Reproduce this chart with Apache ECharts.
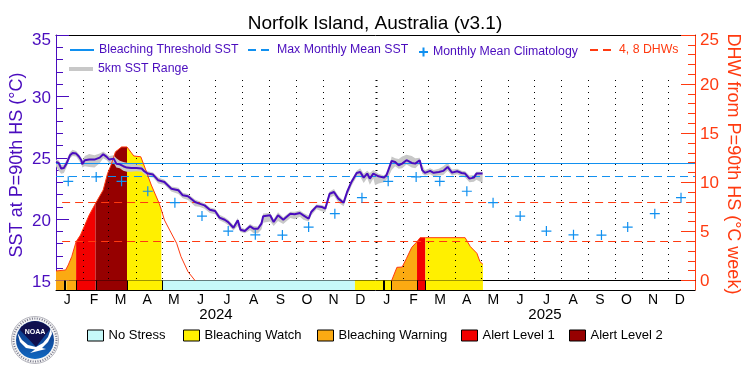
<!DOCTYPE html>
<html>
<head>
  <meta charset="utf-8">
</head>
<body style="margin:0;background:#fff">
  <div id="container" style="width:750px;height:375px"></div>
  <script src="https://cdn.jsdelivr.net/npm/echarts@6/dist/echarts.min.js"></script>
  <script>
    // all day arrays count days from 2024-01-01
    var sstDays = [0,3,6,9,12,16,19,23,26,29,
      30,33,38,44,50,54,58,61,66,69,
      73,77,81,86,92,98,101,105,111,117,
      124,132,140,145,151,159,164,170,176,182,
      187,193,197,203,208,211,216,222,226,231,
      235,237,245,249,254,260,268,273,279,283,
      289,292,298,304,308,313,318,323,329,333,
      338,344,348,352,356,359,363,365,369,375,
      378,380,384,388,392,396,401,407,411,416,
      419,422,428,432,438,443,448,453,459,464,
      468,473,478,481,488];
    var sstValues = [24.66,24.58,24.12,24.17,24.52,25.2,25.39,25.34,25.12,24.8,
      24.47,24.8,24.85,24.85,25.01,25.29,25.07,24.85,24.93,24.52,
      24.47,24.31,24.2,24.17,24.17,24.12,23.9,23.71,23.63,23.16,
      23.03,22.48,22.35,21.94,21.86,21.39,21.26,21.12,20.77,20.66,
      20.12,19.95,19.76,19.3,19.9,19.14,19.03,19.41,19.22,19.22,
      19.63,20.23,20.31,19.76,20.31,19.95,20.44,20.39,20.5,20.31,
      20.03,20.58,21.04,20.99,20.85,22.07,22.21,21.67,21.34,22.21,
      23.03,23.76,23.84,23.38,23.71,23.3,23.71,23.71,23.49,23.38,
      23.57,23.71,24.74,24.66,24.39,24.52,24.8,24.58,24.52,24.8,
      23.99,23.77,23.93,23.77,23.84,23.93,24.25,23.79,23.9,23.76,
      23.71,23.3,23.38,23.71,23.71];
    var sstLow = [24.3,23.95,23.7,23.75,24.2,24.95,25.15,25.1,24.8,24.5,
      24.2,24.3,24.25,24.2,24.55,24.95,24.8,24.55,24.6,24.2,
      24.15,23.95,23.85,23.85,23.9,23.85,23.65,23.45,23.4,22.9,
      22.8,22.25,22.05,21.7,21.55,21.05,21.0,20.85,20.5,20.4,
      19.9,19.7,19.5,19.1,19.45,18.95,18.85,19.1,18.85,18.85,
      19.15,19.7,19.8,19.45,19.85,19.6,20.1,20.0,20.2,19.95,
      19.8,20.3,20.8,20.65,20.55,21.75,21.9,21.35,21.05,21.85,
      22.7,23.45,23.45,22.95,23.35,22.8,23.3,22.75,22.9,23.0,
      23.2,23.4,24.0,24.3,24.1,24.15,24.45,24.2,24.15,24.5,
      23.7,23.55,23.65,23.5,23.55,23.6,23.95,23.55,23.65,23.5,
      23.4,23.0,23.05,23.2,22.95];
    var sstHigh = [24.85,24.8,24.4,24.45,24.8,25.45,25.65,25.55,25.3,25.0,
      24.75,25.15,25.3,25.2,25.35,25.5,25.3,25.15,25.2,24.95,
      24.75,24.65,24.6,24.5,24.45,24.35,24.1,23.9,23.8,23.4,
      23.2,22.65,22.55,22.15,22.05,21.6,21.45,21.3,20.95,20.85,
      20.35,20.15,19.95,19.5,20.1,19.35,19.2,19.6,19.45,19.4,
      19.85,20.45,20.5,20.0,20.55,20.15,20.6,20.6,20.7,20.5,
      20.3,20.75,21.2,21.15,21.05,22.25,22.45,21.9,21.5,22.4,
      23.2,23.95,24.15,23.7,23.95,23.75,24.0,23.9,23.7,23.55,
      23.75,23.95,25.1,24.95,24.9,25.1,25.25,25.15,24.95,25.0,
      24.4,24.0,24.15,24.0,24.1,24.3,24.6,24.05,24.1,23.95,
      23.9,23.55,23.6,23.85,23.85];

    var dhwDays = [0,11,14,18,23,28,38,45.3,54,59,63,68,75,81.2,89,97,101,109,118,120.5,124,130,138,143,151,159,
      170,
      384,390,396,401,407,413,416.5,422.6,468,474,481.5,485,488.4];
    var dhwValues = [0.97,1.07,1.58,2.43,3.95,4.63,6.67,7.86,9.22,10.9,11.76,13.1,13.6,13.6,12.68,12.6,11.66,9.72,7.86,7.2,6.16,5.14,3.79,2.43,0.9,0,
      null,
      0,1.34,1.37,2.26,3.38,3.95,4.36,4.36,4.36,3.45,2.77,1.92,1.65];

    var climDays = [14,46,75,105,136,167,197,228,259,289,319,350,
      380,412,439,470,500,531,561,592,624,654,685,715];
    var climValues = [23.08,23.44,23.08,22.27,21.34,20.25,19.03,18.72,18.7,19.35,20.44,21.75,
      23.08,23.44,23.08,22.27,21.34,20.25,19.03,18.72,18.7,19.35,20.44,21.75];

    var bleachingThreshold = 24.53;
    var maxMonthlyMean = 23.47;
    var dhwLevels = [3.97, 7.94];

    var monthRuleDays = [31,60,91,121,152,182,213,244,274,305,335,366,397,425,456,486,517,547,578,609,639,670,700];
    var monthLabels = ['J','F','M','A','M','J','J','A','S','O','N','D','J','F','M','A','M','J','J','A','S','O','N','D'];

    var stageNames = ['No Stress','Bleaching Watch','Bleaching Warning','Alert Level 1','Alert Level 2'];
    var stageColors = ['#c6f9f9','#fff000','#fbaa12','#f20000','#960000'];
    // [start day, end day, stage index]
    var stageBar = [[0,10,2],[10,12,1],[12,23,2],[23,45.3,3],[45.3,81.2,4],[81.2,121.3,1],[121.3,342,0],
      [342,383.3,1],[383.3,413,2],[413,422.6,3],[422.6,488.4,1]];
    var stageArea = [[0,23,2],[23,45.3,3],[45.3,81.2,4],[81.2,120.5,1],[384,413,2],[413,422.6,3],[422.6,488.4,1]];
    var stageTicks = [[10.5,2],[23,1],[45.3,1],[81.2,1],[121.3,1],[375.3,2],[383.3,1],[413,1],[422.6,1]];

    var dayMs = 86400000;
    var t0 = Date.UTC(2024, 0, 1);
    var tEnd = Date.UTC(2026, 0, 1);
    function toTime(d) { return t0 + d * dayMs; }

    var FONT = 'Liberation Sans';
    var PURPLE = '#4a0cbe';
    var ORANGE = '#ff3a10';
    var BLUE = '#1090f0';
    var PLUS = 'path://M5 0V10M0 5H10';

    var dom = document.getElementById('container');
    var myChart = echarts.init(dom, null, { renderer: 'canvas' });

    function pairs(days, values) {
      return days.map(function (d, i) { return [toTime(d), values[i]]; });
    }

    var series = [];

    // DHW fill, one piece per stage stretch
    stageArea.forEach(function (seg) {
      var pts = [];
      dhwDays.forEach(function (d, i) {
        if (d >= seg[0] && d <= seg[1] && dhwValues[i] !== null) pts.push([toTime(d), dhwValues[i]]);
      });
      series.push({
        name: 'fill ' + seg[0], type: 'line', xAxisIndex: 0, yAxisIndex: 1, data: pts,
        symbol: 'none', lineStyle: { width: 0 }, silent: true, z: 1,
        areaStyle: { color: stageColors[seg[2]], opacity: 1 }
      });
    });

    // dotted month rules
    series.push({
      name: 'months', type: 'custom', xAxisIndex: 0, yAxisIndex: 0, silent: true, z: 2,
      data: monthRuleDays.map(function (d) { return [toTime(d), d]; }),
      renderItem: function (params, api) {
        var a = api.coord([api.value(0), 15]);
        var b = api.coord([api.value(0), 31.33]);
        var x = Math.round(a[0]) + 0.5;
        return {
          type: 'line',
          shape: { x1: x, y1: Math.round(b[1]), x2: x, y2: Math.round(a[1]) },
          style: { stroke: '#000', lineWidth: api.value(1) === 366 ? 2 : 1, lineDash: [1, 5] }
        };
      }
    });

    // 5km range band
    series.push({
      name: '5km SST Range', type: 'custom', xAxisIndex: 0, yAxisIndex: 0, silent: true, z: 3,
      itemStyle: { color: '#c8c8c8' },
      data: [[toTime(0), 20]],
      renderItem: function (params, api) {
        var pts = [];
        sstDays.forEach(function (d, i) { pts.push(api.coord([toTime(d), sstHigh[i]])); });
        for (var i = sstDays.length - 1; i >= 0; i--) pts.push(api.coord([toTime(sstDays[i]), sstLow[i]]));
        return { type: 'polygon', shape: { points: pts }, style: { fill: '#c8c8c8' } };
      }
    });

    series.push({
      name: 'Bleaching Threshold SST', type: 'line', xAxisIndex: 0, yAxisIndex: 0, symbol: 'none', z: 4,
      data: [[t0, bleachingThreshold], [tEnd, bleachingThreshold]],
      lineStyle: { color: BLUE, width: 1 }, itemStyle: { color: BLUE }
    });
    series.push({
      name: 'Max Monthly Mean SST', type: 'line', xAxisIndex: 0, yAxisIndex: 0, symbol: 'none', z: 4,
      data: [[t0, maxMonthlyMean], [tEnd, maxMonthlyMean]],
      lineStyle: { color: BLUE, width: 1, type: [8, 5] }, itemStyle: { color: BLUE }
    });
    dhwLevels.forEach(function (level) {
      series.push({
        name: '4, 8 DHWs', type: 'line', xAxisIndex: 0, yAxisIndex: 1, symbol: 'none', z: 4,
        data: [[toTime(7), level], [tEnd, level]],
        lineStyle: { color: ORANGE, width: 1, type: [8, 5] }, itemStyle: { color: ORANGE }
      });
    });
    series.push({
      name: 'DHW', type: 'line', xAxisIndex: 0, yAxisIndex: 1, symbol: 'none', z: 5,
      data: pairs(dhwDays, dhwValues), lineStyle: { color: ORANGE, width: 1 }
    });
    series.push({
      name: 'Monthly Mean Climatology', type: 'scatter', xAxisIndex: 0, yAxisIndex: 0, z: 6,
      symbol: PLUS, symbolSize: 10, data: pairs(climDays, climValues),
      itemStyle: { color: 'rgba(0,0,0,0)', borderColor: BLUE, borderWidth: 1.2, opacity: 1 }
    });
    series.push({
      name: 'SST', type: 'line', xAxisIndex: 0, yAxisIndex: 0, symbol: 'none', z: 7,
      data: pairs(sstDays, sstValues), lineStyle: { color: PURPLE, width: 2 }
    });

    // stage strip under the plot
    stageNames.forEach(function (name, s) {
      series.push({
        name: name, type: 'custom', xAxisIndex: 2, yAxisIndex: 2, silent: true, z: 2,
        itemStyle: { color: stageColors[s] },
        data: stageBar.filter(function (b) { return b[2] === s; }).map(function (b) {
          return [toTime(b[0]), toTime(b[1])];
        }),
        renderItem: function (params, api) {
          var a = api.coord([api.value(0), 1]);
          var b = api.coord([api.value(1), 0]);
          return { type: 'rect', shape: { x: a[0], y: a[1], width: b[0] - a[0], height: b[1] - a[1] }, style: { fill: stageColors[s] } };
        }
      });
    });
    series.push({
      name: 'stage ticks', type: 'custom', xAxisIndex: 2, yAxisIndex: 2, silent: true, z: 3,
      data: stageTicks.map(function (k) { return [toTime(k[0]), k[1]]; }),
      renderItem: function (params, api) {
        var a = api.coord([api.value(0), 1]);
        var b = api.coord([api.value(0), 0]);
        var w = api.value(1);
        var x = Math.round(a[0]) + (w === 1 ? 0.5 : 0);
        return { type: 'line', shape: { x1: x, y1: a[1], x2: x, y2: b[1] }, style: { stroke: '#000', lineWidth: w } };
      }
    });

    // plain lines keep the legend's circle hidden, the line stays
    function topLegend(name, left, top, width, height, color, item) {
      return {
        data: [Object.assign({ name: name }, item)], left: left, top: top, padding: 0,
        itemWidth: width, itemHeight: height, selectedMode: false,
        textStyle: { color: color, fontFamily: FONT, fontSize: 12.3 }
      };
    }
    function stageLegend(name, left) {
      return {
        data: [{ name: name, icon: 'rect' }], left: left, top: 329, padding: 0,
        itemWidth: 16, itemHeight: 11, selectedMode: false,
        itemStyle: { borderColor: '#000', borderWidth: 1 },
        textStyle: { color: '#000', fontFamily: FONT, fontSize: 13 }
      };
    }
    var noDot = { itemStyle: { opacity: 0 } };

    var option = {
      animation: false,
      useUTC: true,
      backgroundColor: '#fff',
      title: {
        text: 'Norfolk Island, Australia (v3.1)', left: 370, top: 9, textAlign: 'center',
        textStyle: { color: '#000', fontFamily: FONT, fontSize: 19, fontWeight: 'normal' }
      },
      grid: [
        { left: 56, right: 55, top: 35, height: 245.5 },
        { left: 56, right: 55, top: 280.5, height: 9.5 }
      ],
      xAxis: [
        { type: 'time', gridIndex: 0, min: t0, max: tEnd, position: 'bottom',
          axisLine: { onZero: false, lineStyle: { color: '#000', width: 1 } },
          axisTick: { show: false }, axisLabel: { show: false }, splitLine: { show: false } },
        { type: 'time', gridIndex: 0, min: t0, max: tEnd, position: 'top',
          axisLine: { onZero: false, lineStyle: { color: '#000', width: 1 } },
          axisTick: { show: false }, axisLabel: { show: false }, splitLine: { show: false } },
        { type: 'time', gridIndex: 1, min: t0, max: tEnd, position: 'bottom',
          axisLine: { onZero: false, lineStyle: { color: '#000', width: 1 } },
          axisTick: { show: false }, axisLabel: { show: false }, splitLine: { show: false } },
        { type: 'category', gridIndex: 1, data: monthLabels, position: 'bottom',
          axisLine: { show: false }, axisTick: { show: false }, splitLine: { show: false },
          axisLabel: { interval: 0, color: '#000', fontFamily: FONT, fontSize: 14, margin: 3, padding: [0, 4, 0, 0] } }
      ],
      yAxis: [
        { type: 'value', gridIndex: 0, min: 15, max: 35, interval: 5, position: 'left',
          axisLine: { show: true, onZero: false, lineStyle: { color: PURPLE, width: 1 } },
          axisTick: { show: true, inside: true, length: 13, lineStyle: { color: PURPLE } },
          minorTick: { show: true, splitNumber: 5, length: 7, lineStyle: { color: PURPLE } },
          axisLabel: { color: PURPLE, fontFamily: FONT, fontSize: 17, margin: 5, padding: [4, 0, 0, 0],
            formatter: function (v) { return v === 35 ? '{t|35}' : v; },
            rich: { t: { fontFamily: FONT, fontSize: 17, color: PURPLE, padding: [6, 0, 0, 0] } } },
          splitLine: { show: false } },
        { type: 'value', gridIndex: 0, min: 0, max: 25, interval: 5, position: 'right',
          axisLine: { show: true, onZero: false, lineStyle: { color: ORANGE, width: 1 } },
          axisTick: { show: true, inside: true, length: 14, lineStyle: { color: ORANGE } },
          minorTick: { show: true, splitNumber: 5, length: 7, lineStyle: { color: ORANGE } },
          axisLabel: { color: ORANGE, fontFamily: FONT, fontSize: 17, margin: 5, padding: [2, 0, 0, 0],
            formatter: function (v) { return v === 25 ? '{t|25}' : v; },
            rich: { t: { fontFamily: FONT, fontSize: 17, color: ORANGE, padding: [8, 0, 0, 0] } } },
          splitLine: { show: false } },
        { type: 'value', gridIndex: 1, min: 0, max: 1, position: 'left',
          axisLine: { show: true, onZero: false, lineStyle: { color: PURPLE, width: 1 } },
          axisTick: { show: false }, axisLabel: { show: false }, splitLine: { show: false } },
        { type: 'value', gridIndex: 1, min: 0, max: 1, position: 'right',
          axisLine: { show: true, onZero: false, lineStyle: { color: ORANGE, width: 1 } },
          axisTick: { show: false }, axisLabel: { show: false }, splitLine: { show: false } }
      ],
      legend: [
        topLegend('Bleaching Threshold SST', 69, 44, 24, 14, PURPLE, noDot),
        topLegend('Max Monthly Mean SST', 247, 44, 24, 14, PURPLE, noDot),
        topLegend('Monthly Mean Climatology', 418, 46, 9, 9, PURPLE, {}),
        topLegend('4, 8 DHWs', 589, 44, 24, 14, ORANGE, noDot),
        topLegend('5km SST Range', 69, 63, 24, 4, PURPLE, { icon: 'rect' }),
        stageLegend('No Stress', 87),
        stageLegend('Bleaching Watch', 183),
        stageLegend('Bleaching Warning', 317),
        stageLegend('Alert Level 1', 461),
        stageLegend('Alert Level 2', 569)
      ],
      graphic: [
        { type: 'text', x: 17, y: 165, rotation: Math.PI / 2, silent: true,
          style: { text: 'SST at P=90th HS (\u00b0C)', fill: PURPLE, font: '18px ' + FONT, align: 'center', verticalAlign: 'middle' } },
        { type: 'text', x: 733, y: 164, rotation: -Math.PI / 2, silent: true,
          style: { text: 'DHW from P=90th HS (\u00b0C week)', fill: ORANGE, font: '18px ' + FONT, align: 'center', verticalAlign: 'middle' } },
        { type: 'text', x: 216, y: 315, silent: true,
          style: { text: '2024', fill: '#000', font: '15px ' + FONT, align: 'center', verticalAlign: 'middle' } },
        { type: 'text', x: 545, y: 315, silent: true,
          style: { text: '2025', fill: '#000', font: '15px ' + FONT, align: 'center', verticalAlign: 'middle' } },
        // NOAA badge
        { type: 'group', x: 35, y: 340, silent: true, children: [
          { type: 'circle', shape: { r: 23.5 }, style: { fill: '#f4f4f4', stroke: '#b8b8c0', lineWidth: 1 } },
          { type: 'circle', shape: { r: 21.5 }, style: { fill: 'none', stroke: '#77778a', lineWidth: 2, lineDash: [1, 1.5] } },
          { type: 'circle', shape: { r: 19 }, style: { fill: new echarts.graphic.LinearGradient(0, 0, 0, 1, [
            { offset: 0, color: '#0d2d7a' }, { offset: 1, color: '#1168c0' }]) } },
          { type: 'polygon', shape: { points: [[-14,-13],[-8,-17],[0,-19],[8,-17],[14,-13],[15,-11],[1,7],[-15,-10]] }, style: { fill: '#10104e' } },
          { type: 'polygon', shape: { points: [[-17.5,-7],[-13,0],[-7,5],[1,7],[8,3],[13,-3],[16,-12],[17,-6],[13,2],[7,8],[11,9],[-5,13],[0,9.5],[-9,8],[-15,2]] }, style: { fill: '#fff' } },
          { type: 'text', x: 0, y: -8, style: { text: 'NOAA', fill: '#fff', font: 'bold 7px ' + FONT, align: 'center', verticalAlign: 'middle' } }
        ] }
      ],
      series: series
    };

    myChart.setOption(option);
  </script>
</body>
</html>
